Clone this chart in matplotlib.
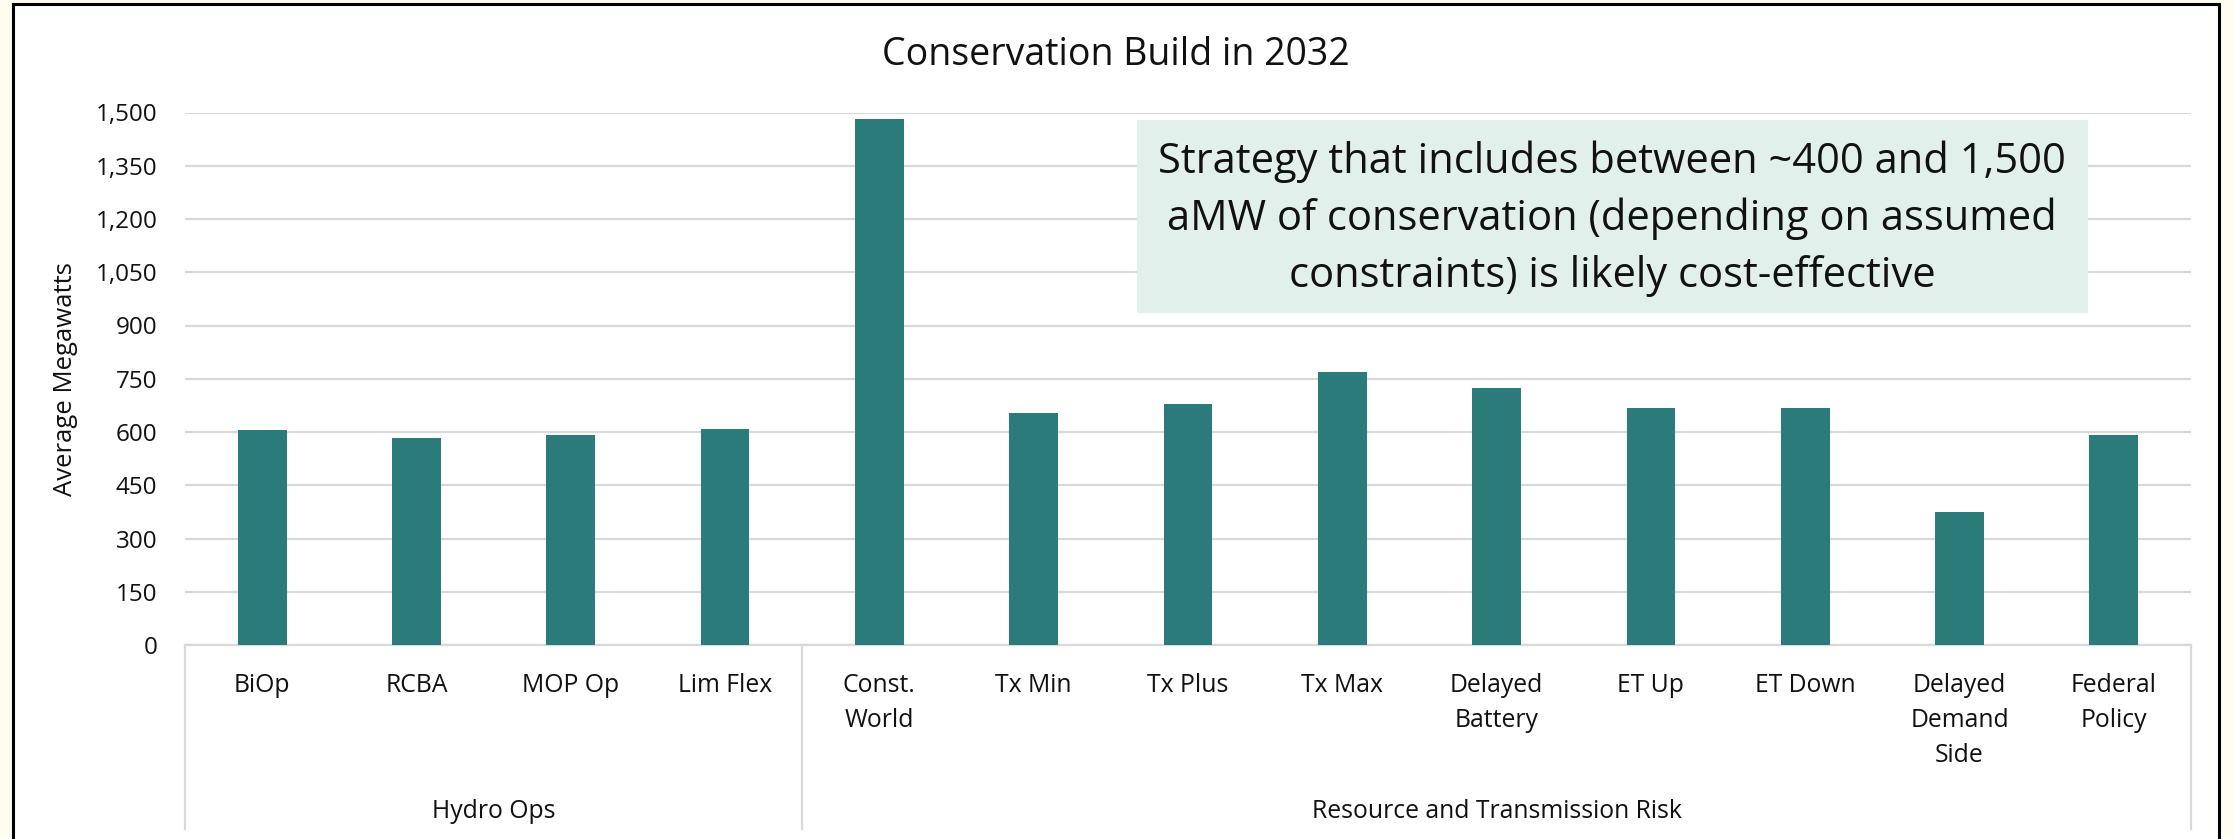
import matplotlib
matplotlib.use("Agg")
import matplotlib.pyplot as plt
from matplotlib.patches import Rectangle

categories = ["BiOp", "RCBA", "MOP Op", "Lim Flex", "Const.\nWorld", "Tx Min", "Tx Plus",
              "Tx Max", "Delayed\nBattery", "ET Up", "ET Down", "Delayed\nDemand\nSide",
              "Federal\nPolicy"]
values = [605, 583, 591, 609, 1482, 654, 679, 769, 725, 667, 668, 374, 591]
groups = ["Hydro Ops", "Resource and Transmission Risk"]
group_sizes = [4, 9]
yticks = [0, 150, 300, 450, 600, 750, 900, 1050, 1200, 1350, 1500]
title = "Conservation Build in 2032"
ylabel = "Average Megawatts"
note_lines = ["Strategy that includes between ~400 and 1,500",
              "aMW of conservation (depending on assumed",
              "constraints) is likely cost-effective"]

FONT = "Open Sans"
TXT = "#111111"

W, H = 2233, 839
fig = plt.figure(figsize=(W / 100, H / 100), dpi=100, facecolor="#FFFCF2")

def fx(x):
    return x / W

def fy(y):
    return 1 - y / H

# white frame
fig.patches.append(Rectangle((fx(13), fy(900)), fx(2219) - fx(13), fy(4) - fy(900),
                             transform=fig.transFigure, facecolor="white",
                             edgecolor="black", linewidth=2.2, zorder=-5))

x0, x1, ytop, ybot = 185, 2191, 112.5, 645
ax = fig.add_axes([fx(x0), fy(ybot), fx(x1) - fx(x0), fy(ytop) - fy(ybot)])
ax.set_facecolor("none")
n = len(categories)
xs = list(range(n))
ax.bar(xs, values, width=0.316, color="#2B7B7A", zorder=3)
ax.set_xlim(-0.5, n - 0.5)
ax.set_ylim(0, 1500)
ax.set_yticks(yticks)
ax.set_yticklabels([f"{v:,}" for v in yticks], family=FONT, fontsize=17.5, color=TXT)
ax.yaxis.grid(True, color="#D9D9D9", linewidth=1.6, zorder=0)
ax.set_axisbelow(True)
for s in ["top", "right", "left"]:
    ax.spines[s].set_visible(False)
ax.spines["bottom"].set_color("#D9D9D9")
ax.spines["bottom"].set_linewidth(1.6)
ax.tick_params(axis="y", length=0, pad=20)
ax.set_xticks([])

def ay(ypx):
    return (ybot - ypx) / (ybot - ytop)

trans = ax.get_xaxis_transform()
for i, lab in enumerate(categories):
    for k, line in enumerate(lab.split("\n")):
        ax.text(i, ay(691.5 + 35.5 * k), line, transform=trans, ha="center", va="baseline",
                family=FONT, fontsize=17.8, color=TXT, clip_on=False)

# group separators
edges = [-0.5]
for g in group_sizes:
    edges.append(edges[-1] + g)
for e in edges:
    ax.plot([e, e], [0, ay(829)], transform=trans, color="#D9D9D9", linewidth=1.6,
            clip_on=False, zorder=1)
for i, g in enumerate(groups):
    ax.text((edges[i] + edges[i + 1]) / 2, ay(818), g, transform=trans, ha="center",
            va="baseline", family=FONT, fontsize=17.8, color=TXT, clip_on=False)

fig.text(fx(65), fy(379), ylabel, rotation=90, ha="center", va="center", family=FONT,
         fontsize=18.5, color=TXT)

fig.text(fx(1116), fy(65), title, ha="center", va="baseline", family=FONT,
         fontsize=27, color=TXT)

# annotation box
fig.patches.append(Rectangle((fx(1137), fy(313)), fx(2088) - fx(1137), fy(120) - fy(313),
                             transform=fig.transFigure, facecolor="#E2F0EB",
                             edgecolor="none", zorder=5))
for k, line in enumerate(note_lines):
    fig.text(fx(1612), fy(173.3 + 56.7 * k), line, ha="center", va="baseline", family=FONT,
             fontsize=30, color=TXT, zorder=6)

fig.savefig("out.png", dpi=100, facecolor=fig.get_facecolor())
